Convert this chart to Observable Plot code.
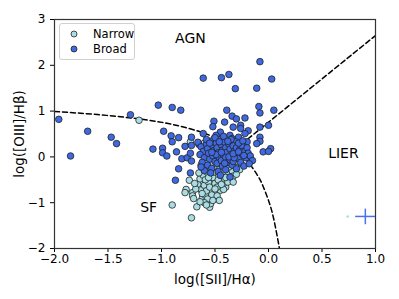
<!DOCTYPE html>
<html>
<head>
<meta charset="utf-8">
<script src="https://cdn.jsdelivr.net/npm/d3@7"></script>
<script src="https://cdn.jsdelivr.net/npm/@observablehq/plot@0.6"></script>
<style>
  body { margin: 0; background: #fff; font-family: "DejaVu Sans", sans-serif; }
  #wrap { position: relative; width: 399px; height: 299px; }
  #legend { position: absolute; left: 59px; top: 23px; width: 74px; height: 35px;
    border: 1px solid #d0d0d0; border-radius: 3px; background: rgba(255,255,255,0.85);
    font-size: 11.5px; color: #000; }
  #legend .row { position: absolute; left: 0; height: 14px; display: flex; align-items: center; }
  #legend svg { margin-left: 10px; margin-right: 15px; }
</style>
</head>
<body>
<div id="wrap">
  <div id="chart"></div>
  <div id="legend">
    <div class="row" style="top:3px"><svg width="8" height="8"><circle cx="4" cy="4" r="3" fill="#a9dde3" stroke="#222" stroke-width="0.8"/></svg>Narrow</div>
    <div class="row" style="top:18px"><svg width="8" height="8"><circle cx="4" cy="4" r="3" fill="#3f69e0" stroke="#222" stroke-width="0.8"/></svg>Broad</div>
  </div>
</div>
<script>
// Broad-line sources: [log([SII]/Ha), log([OIII]/Hb)]
const broad = [
  [-1.96,0.82],[-1.69,0.56],[-1.47,0.43],[-1.42,0.29],[-1.29,0.92],[-1.03,1.13],[-0.90,1.08],[-0.82,1.02],
  [-0.98,0.56],[-0.91,0.46],[-0.84,0.42],[-0.90,0.33],[-0.72,0.43],[-1.08,0.17],[-0.99,0.19],[-0.78,0.23],
  [-0.65,0.27],[-1.85,0.02],[-0.99,0.09],[-0.95,0.02],[-0.86,0.11],[-0.81,-0.04],[-0.76,-0.02],[-0.73,0.08],
  [-0.72,-0.09],[-0.84,-0.26],[-0.73,-0.35],[-0.87,-0.51],[-0.72,0.25],
  [-0.61,1.72],[-0.44,1.73],[-0.37,1.80],[-0.08,2.08],[0.03,1.70],[-0.31,1.49],[-0.11,1.50],[-0.09,1.10],
  [-0.08,0.96],[0.05,1.02],[-0.39,1.02],[-0.34,0.89],[-0.30,0.83],[-0.22,0.85],[-0.51,0.78],[-0.41,0.76],
  [-0.52,0.66],[-0.26,0.69],[-0.33,0.65],[-0.26,0.62],[-0.19,0.57],[-0.08,0.65],[0.00,0.69],[-0.45,0.54],
  [-0.36,0.47],[-0.49,0.47],[-0.28,0.43],[-0.08,0.43],[-0.08,0.34],[0.02,0.18],[-0.11,0.29],[-0.61,0.51],
  [-0.34,0.40],[-0.31,0.33],[-0.20,0.33],[-0.23,0.22],[-0.22,0.51],
  [-0.66,0.32],[-0.63,0.22],[-0.61,0.12],[-0.64,0.05],[-0.60,-0.02],[-0.62,-0.12],[-0.58,0.28],[-0.57,0.18],
  [-0.56,0.08],[-0.55,-0.05],[-0.57,-0.18],[-0.53,0.35],[-0.52,0.24],[-0.51,0.14],[-0.52,0.02],[-0.50,-0.10],
  [-0.53,-0.25],[-0.49,0.30],[-0.48,0.20],[-0.47,0.09],[-0.46,-0.02],[-0.48,-0.14],[-0.47,-0.32],[-0.45,0.38],
  [-0.44,0.26],[-0.43,0.15],[-0.42,0.04],[-0.44,-0.08],[-0.43,-0.20],[-0.41,0.32],[-0.40,0.20],[-0.39,0.10],
  [-0.40,-0.01],[-0.38,-0.12],[-0.40,-0.28],[-0.37,0.28],[-0.36,0.17],[-0.35,0.05],[-0.36,-0.06],[-0.34,-0.18],
  [-0.33,0.24],[-0.32,0.12],[-0.31,0.01],[-0.33,-0.10],[-0.30,0.20],[-0.29,0.07],[-0.28,-0.04],[-0.30,-0.26],
  [-0.27,0.15],[-0.25,0.25],[-0.24,0.05],[-0.26,-0.12],[-0.22,0.12],[-0.21,-0.02],[-0.20,0.20],[-0.19,0.08],
  [-0.23,-0.20],[-0.58,0.38],[-0.54,-0.35],[-0.45,-0.40],[-0.50,0.42],[-0.42,0.45],[-0.35,0.38],[-0.60,-0.30],
  [-0.46,0.33],[-0.55,0.30],[-0.49,0.05],[-0.41,-0.14],[-0.37,0.00],[-0.32,-0.02],[-0.44,0.10],[-0.53,0.10],
  [-0.38,0.34],[-0.28,0.30],[-0.24,0.35],[-0.63,-0.22],[-0.17,0.02],[-0.15,-0.08],[-0.18,-0.15],
  [-0.33,0.07],[-0.28,0.11],[-0.23,0.03],[-0.36,-0.44],[-0.05,0.11],[0.00,0.12]
];
// Narrow-line sources
const narrow = [
  [-1.21,0.80],[-0.73,0.33],[-0.60,0.30],[-0.25,-0.18],
  [-0.74,-0.51],[-0.77,-0.71],[-0.78,-0.78],[-0.71,-0.78],[-0.67,-0.68],[-0.71,-0.85],[-0.90,-1.05],[-0.67,-1.09],
  [-0.72,-1.33],[-0.55,-1.10],[-0.54,-1.02],[-0.54,-0.93],[-0.70,-0.91],[-0.62,-0.91],[-0.59,-0.84],[-0.50,-0.76],
  [-0.45,-0.73],[-0.40,-0.66],[-0.42,-0.58],[-0.36,-0.47],[-0.42,-0.71],
  [-0.66,-0.60],[-0.63,-0.72],[-0.60,-0.62],[-0.58,-0.74],[-0.56,-0.55],[-0.55,-0.66],[-0.53,-0.83],[-0.52,-0.45],
  [-0.50,-0.58],[-0.48,-0.66],[-0.47,-0.50],[-0.45,-0.40],[-0.44,-0.60],[-0.41,-0.48],[-0.39,-0.36],[-0.38,-0.55],
  [-0.34,-0.30],[-0.33,-0.42],[-0.31,-0.20],[-0.64,-0.48],[-0.61,-0.40],[-0.59,-0.50],[-0.57,-0.34],[-0.54,-0.25],
  [-0.51,-0.33],[-0.49,-0.22],[-0.46,-0.28],[-0.43,-0.33],[-0.40,-0.45],[-0.37,-0.22],[-0.62,-0.80],[-0.57,-0.92],
  [-0.60,-1.00],[-0.64,-0.98],[-0.48,-0.85],[-0.46,-0.95],[-0.68,-0.70],[-0.69,-0.58],[-0.65,-0.35],[-0.63,-0.18],
  [-0.59,-0.08],[-0.52,-0.15],[-0.44,-0.12],[-0.38,-0.08],[-0.35,-0.15],[-0.29,-0.10],[-0.27,-0.28],[-0.55,0.05],
  [-0.48,0.15],[-0.40,0.10],[-0.60,0.15],[-0.33,-0.55],[-0.30,-0.38],[-0.52,-0.95],[-0.58,-1.05],[-0.50,-0.70],
  [-0.56,-0.45]
];
// Maximum-starburst (SF/AGN) demarcation
const sfLineX = [-2.0,-1.6,-1.2,-0.9,-0.6,-0.4,-0.3,-0.2,-0.1,-0.05,0.0,0.05,0.1,0.105];
const sfLineY = [0.99,0.925,0.826,0.71,0.517,0.30,0.139,-0.085,-0.414,-0.646,-0.95,-1.367,-1.97,-2.05];
// Seyfert / LINER division
const lierLineX = [-0.31,1.0];
const lierLineY = [0.17,2.65];
// Region labels
const regionNames = ["AGN","LIER","SF"];
const regionX = [-0.73,0.70,-1.12];
const regionY = [2.58,0.08,-1.10];
// Typical uncertainty (broad) and narrow reference dot
const errBroad = {x:0.905, y:-1.30, ex:0.095, ey:0.17};
const errNarrow = {x:0.74, y:-1.30};

const xTicks = [-2.0,-1.5,-1.0,-0.5,0.0,0.5,1.0];
const yTicks = [-2,-1,0,1,2,3];

const sfLine = sfLineX.map((x,i)=>({x, y: sfLineY[i]}));
const lierLine = lierLineX.map((x,i)=>({x, y: lierLineY[i]}));
const labels = regionNames.map((t,i)=>({t, x: regionX[i], y: regionY[i]}));

const broadC = "#3f69e0", narrowC = "#a9dde3";

const chart = Plot.plot({
  width: 399, height: 299,
  marginLeft: 54, marginRight: 24, marginTop: 19, marginBottom: 51,
  style: {fontFamily: "DejaVu Sans, sans-serif", fontSize: "12px", color: "#000", background: "#fff"},
  x: {domain: [-2, 1]},
  y: {domain: [-2, 3]},
  marks: [
    Plot.line(sfLine, {x: "x", y: "y", curve: "natural", stroke: "#000", strokeWidth: 1.5, strokeDasharray: "5,3", clip: true}),
    Plot.line(lierLine, {x: "x", y: "y", stroke: "#000", strokeWidth: 1.5, strokeDasharray: "5,3", clip: true}),
    Plot.dot(narrow, {x: d=>d[0], y: d=>d[1], r: 3.3, fill: narrowC, stroke: "#222", strokeWidth: 0.8}),
    Plot.dot(broad, {x: d=>d[0], y: d=>d[1], r: 3.3, fill: broadC, stroke: "#222", strokeWidth: 0.8}),
    Plot.link([errBroad], {x1: d=>d.x-d.ex, x2: d=>d.x+d.ex, y1: "y", y2: "y", stroke: "#4a72e8", strokeWidth: 1.5}),
    Plot.link([errBroad], {x1: "x", x2: "x", y1: d=>d.y-d.ey, y2: d=>d.y+d.ey, stroke: "#4a72e8", strokeWidth: 1.5}),
    Plot.dot([errNarrow], {x: "x", y: "y", r: 1.3, fill: narrowC}),
    Plot.text(labels, {x: "x", y: "y", text: "t", fontSize: 14, fill: "#000"}),
    Plot.axisX({ticks: xTicks, tickFormat: d3.format(".1f"), tickSize: 4, tickPadding: 2, fontSize: 12, label: null}),
    Plot.axisY({ticks: yTicks, tickFormat: d3.format("d"), tickSize: 4, fontSize: 12, label: null}),
    Plot.axisX({ticks: [], tickSize: 0, fontSize: 13.5, label: "log([SII]/Hα)", labelAnchor: "center", labelOffset: 35, labelArrow: "none"}),
    Plot.axisY({ticks: [], tickSize: 0, fontSize: 13.5, label: "log([OIII]/Hβ)", labelAnchor: "center", labelOffset: 40, labelArrow: "none"}),
    Plot.frame({stroke: "#333", strokeWidth: 1.2})
  ]
});
document.getElementById("chart").appendChild(chart);
</script>
</body>
</html>
